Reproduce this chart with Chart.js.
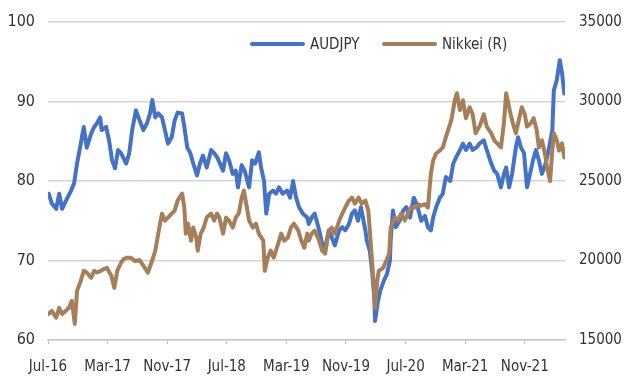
<!DOCTYPE html>
<html>
<head>
<meta charset="utf-8">
<script src="https://cdn.jsdelivr.net/npm/chart.js@4/dist/chart.umd.min.js"></script>
<style>
  html, body { margin: 0; padding: 0; background: #ffffff; }
  #wrap { position: relative; width: 626px; height: 382px; overflow: hidden; }
  #c { position: absolute; left: 0; top: 0; }
  .lg { position: absolute; top: 33px; height: 22px; display: flex; align-items: center;
        font-family: 'DejaVu Sans Condensed', 'Liberation Sans', sans-serif;
        font-size: 15px; color: #333333; white-space: nowrap; }
  .sw { display: inline-block; width: 55px; height: 4px; margin-right: 5px; border-radius: 2px; }
</style>
</head>
<body>
<div id="wrap">
  <canvas id="c" width="626" height="382"></canvas>
  <div id="legend"></div>
</div>
<script>
// Months since Jul-2016 (x positions in time) and values
const audMonths = [0.1,0.5,1.1,1.5,1.9,2.4,3.1,3.5,3.9,4.4,4.8,5.2,5.8,6.2,6.6,7.0,7.2,7.8,8.2,8.6,9.0,9.4,9.8,10.5,10.9,11.3,11.8,12.3,12.8,13.3,13.7,14.0,14.4,14.8,15.3,15.7,16.1,16.6,17.0,17.4,18.0,18.3,18.7,19.1,19.5,20.0,20.4,20.8,21.3,21.9,22.3,22.7,23.5,23.9,24.3,24.8,25.2,25.5,26.0,26.4,27.0,27.4,27.8,28.3,28.6,29.0,29.3,29.7,30.2,30.6,31.0,31.5,32.1,32.5,32.9,33.3,33.7,34.2,34.8,35.0,35.4,35.8,36.4,36.8,37.2,37.7,38.1,38.5,39.1,39.5,39.9,40.4,40.8,41.2,41.6,42.0,42.6,42.8,43.2,43.5,43.8,43.9,44.3,44.6,45.1,45.5,45.9,46.0,46.3,46.7,47.2,47.7,48.1,48.6,49.1,49.5,50.1,50.6,51.0,51.4,51.7,52.1,52.6,53.0,53.4,54.0,54.4,54.8,55.3,55.7,56.1,56.6,57.0,57.6,57.9,58.5,58.9,59.5,59.9,60.3,60.8,61.2,61.5,61.9,62.3,62.8,63.1,63.5,63.9,64.3,64.7,65.1,65.5,65.9,66.3,66.8,67.2,67.7,67.9,68.3,68.7,69.0,69.3];
const audValues = [78.4,77.2,76.5,78.4,76.5,77.5,78.8,79.7,82.2,84.7,86.8,84.2,86.0,86.8,87.3,88.0,86.4,86.8,85.1,82.6,81.6,83.9,83.5,82.2,83.5,86.4,88.9,87.6,86.4,87.3,88.5,90.2,88.0,88.5,88.0,86.4,84.7,85.5,87.6,88.6,88.5,86.8,84.2,83.5,82.2,80.7,82.2,83.2,81.7,83.9,83.5,83.0,81.3,83.5,82.6,80.9,81.3,79.2,82.0,81.3,79.2,82.6,82.2,83.6,81.7,80.0,75.9,78.4,78.8,78.4,79.2,78.4,78.8,77.9,80.0,77.9,76.7,75.9,75.4,74.6,75.4,75.9,73.8,72.1,71.6,73.8,72.9,71.9,73.8,74.2,73.8,74.6,75.9,76.3,75.0,76.7,73.8,72.5,71.2,68.7,65.3,62.4,64.9,66.2,67.5,68.3,70.0,72.5,76.3,74.2,75.0,76.3,76.7,75.4,77.9,77.1,75.0,75.6,74.2,73.8,75.4,76.7,77.9,78.4,80.5,80.0,82.2,83.0,83.9,84.7,83.9,84.7,83.9,84.3,84.7,85.1,83.9,82.2,81.3,80.9,79.2,80.9,81.7,79.2,80.9,84.2,85.5,84.2,83.5,79.2,80.9,82.6,83.9,82.6,80.9,82.2,83.9,86.4,91.4,92.7,95.2,93.6,91.0];

const nikMonths = [0.1,0.5,1.1,1.5,1.9,2.4,2.8,3.2,3.6,3.9,4.4,4.8,5.2,5.8,6.2,6.6,7.1,7.5,7.9,8.5,8.9,9.3,9.8,10.2,10.6,11.1,11.7,12.3,13.0,13.4,14.0,14.4,14.8,15.3,15.7,16.1,16.6,17.0,17.4,18.0,18.3,18.5,18.8,19.2,19.5,19.9,20.1,20.5,20.9,21.3,21.9,22.3,22.7,23.0,23.5,23.9,24.3,24.8,25.2,25.6,26.0,26.3,26.7,27.0,27.5,27.9,28.3,28.9,29.1,29.5,29.9,30.3,30.9,31.3,31.7,32.2,32.6,33.0,33.6,34.0,34.4,34.8,35.0,35.4,35.8,36.4,36.8,37.2,37.7,38.1,38.5,39.1,39.5,39.9,40.4,40.8,41.2,41.7,42.1,42.6,43.0,43.2,43.6,43.9,44.2,44.4,45.0,45.4,45.8,46.0,46.6,47.0,47.4,47.9,48.3,48.7,49.3,49.7,50.1,50.6,51.0,51.4,51.7,52.1,52.6,53.0,53.4,54.0,54.2,54.6,54.9,55.3,55.7,56.1,56.6,57.0,57.4,57.9,58.1,58.5,58.9,59.5,59.9,60.3,60.8,61.2,61.5,61.7,62.1,62.4,62.8,63.1,63.6,64.0,64.3,64.8,65.2,65.6,65.9,66.3,66.7,67.0,67.4,67.7,67.9,68.3,68.6,69.0,69.3];
const nikValues = [16640,16830,16400,17020,16640,16830,17020,17460,16010,18090,18720,19350,19250,18910,19350,19250,19350,19460,19540,19040,18280,19350,19860,20110,20180,20180,19960,20030,19540,19230,20030,20620,21690,22950,22510,22700,22950,23140,23770,24210,23330,21690,22320,21250,22070,21440,20620,21690,22070,22700,22950,22510,22950,22700,21690,22700,22510,22070,22700,22950,23960,24400,23330,22510,22070,22320,21690,21250,19350,20180,20620,20180,21060,21690,21250,21440,22070,22320,21880,21250,20800,21690,21250,21690,21880,21250,20620,20430,21880,22070,21690,22510,22950,23330,23770,23960,23580,23960,23580,23770,23140,21880,19350,17020,18720,19350,19540,19990,20430,22070,22700,22510,22950,22510,22950,23330,23330,23540,23450,23540,23330,25470,26290,26730,26920,27110,27740,28630,28950,30080,30520,29450,30080,28950,29640,29200,28000,28420,28630,29200,28420,28000,27560,27370,27110,28630,30520,30080,29200,28630,28000,28630,29640,29200,28420,28630,28950,28210,27110,27560,26730,25850,25000,26920,28000,27560,26920,27370,26480];

// Axis tick labels (one every 8 months from Jul-16)
const xTickLabels = ['Jul-16','Mar-17','Nov-17','Jul-18','Mar-19','Nov-19','Jul-20','Mar-21','Nov-21'];
const seriesNames = ['AUDJPY', 'Nikkei (R)'];
const seriesColors = ['#4472C4', '#A67F59'];

const FONT = "'DejaVu Sans Condensed', 'Liberation Sans', sans-serif";
const toPts = (xs, ys) => xs.map((x, i) => ({ x: x, y: ys[i] }));

const chart = new Chart(document.getElementById('c'), {
  type: 'line',
  data: {
    datasets: [
      { label: seriesNames[0], data: toPts(audMonths, audValues), yAxisID: 'yL',
        borderColor: seriesColors[0], backgroundColor: seriesColors[0], borderWidth: 4,
        pointRadius: 0, tension: 0, order: 1, borderJoinStyle: 'round', borderCapStyle: 'round' },
      { label: seriesNames[1], data: toPts(nikMonths, nikValues), yAxisID: 'yR',
        borderColor: seriesColors[1], backgroundColor: seriesColors[1], borderWidth: 4,
        pointRadius: 0, tension: 0, order: 0, borderJoinStyle: 'round', borderCapStyle: 'round' }
    ]
  },
  options: {
    responsive: false,
    animation: false,
    events: [],
    layout: { padding: { top: 22, left: 0, right: 0, bottom: 0 } },
    plugins: { legend: { display: false }, tooltip: { enabled: false } },
    scales: {
      x: {
        type: 'linear', min: 0, max: 69.4,
        grid: { display: true, drawOnChartArea: false, drawTicks: true, tickLength: 4, color: '#bfbfbf', lineWidth: 1 },
        border: { display: true, color: '#c8c8c8', width: 1.5 },
        ticks: {
          stepSize: 8, includeBounds: false, autoSkip: false, maxRotation: 0, padding: 14,
          color: '#333333', font: { family: FONT, size: 15 },
          callback: (v) => { const i = Math.round(v / 8); return (Math.abs(v - i * 8) < 1e-6 && xTickLabels[i]) ? xTickLabels[i] : ''; }
        },
        afterFit: (s) => { s.height = 42; s.paddingLeft = 0; s.paddingRight = 0; }
      },
      yL: {
        type: 'linear', position: 'left', min: 60, max: 100,
        grid: { display: true, drawTicks: false, color: '#d4d4d4', lineWidth: 1.5 },
        border: { display: false },
        ticks: { stepSize: 10, padding: 13, color: '#333333', font: { family: FONT, size: 16 },
                 callback: (v) => String(v) },
        afterFit: (s) => { s.width = 48; s.paddingTop = 0; s.paddingBottom = 0; }
      },
      yR: {
        type: 'linear', position: 'right', min: 15000, max: 35000,
        grid: { display: false, drawTicks: false },
        border: { display: false },
        ticks: { stepSize: 5000, padding: 14, color: '#333333', font: { family: FONT, size: 15 },
                 callback: (v) => String(v) },
        afterFit: (s) => { s.width = 61; s.paddingTop = 0; s.paddingBottom = 0; }
      }
    }
  }
});

// HTML legend placed inside the plot area (as in the reference)
const legendPos = [250, 382];
const lg = document.getElementById('legend');
seriesNames.forEach((name, i) => {
  const d = document.createElement('div');
  d.className = 'lg';
  d.style.left = legendPos[i] + 'px';
  const sw = document.createElement('span');
  sw.className = 'sw';
  sw.style.background = seriesColors[i];
  const t = document.createElement('span');
  t.textContent = name;
  d.appendChild(sw); d.appendChild(t);
  lg.appendChild(d);
});
</script>
</body>
</html>
